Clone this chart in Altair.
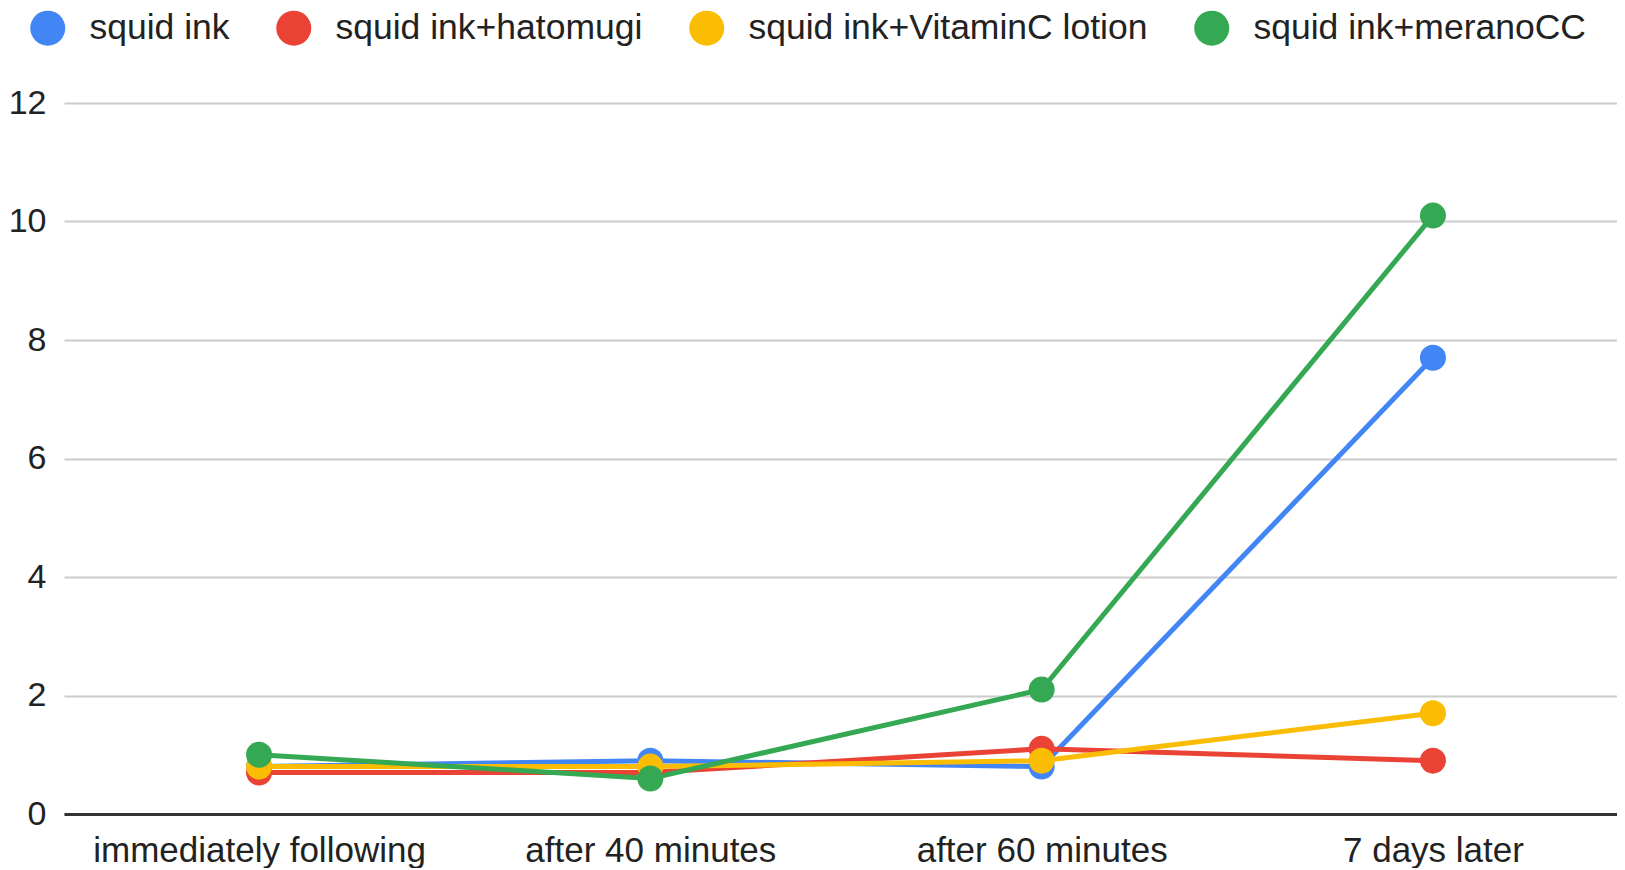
import altair as alt
import pandas as pd

categories = ["immediately following", "after 40 minutes", "after 60 minutes", "7 days later"]
series_names = ["squid ink", "squid ink+hatomugi", "squid ink+VitaminC lotion", "squid ink+meranoCC"]
squid_ink = [0.8, 0.9, 0.8, 7.7]
hatomugi = [0.7, 0.7, 1.1, 0.9]
vitamin_c = [0.8, 0.8, 0.9, 1.7]
merano_cc = [1.0, 0.6, 2.1, 10.1]
colors = ["#4285F4", "#EA4335", "#FBBC04", "#34A853"]
y_ticks = [0, 2, 4, 6, 8, 10, 12]

rows = []
for name, vals in zip(series_names, [squid_ink, hatomugi, vitamin_c, merano_cc]):
    for i, (c, v) in enumerate(zip(categories, vals)):
        rows.append({"time": c, "series": name, "value": v, "order": i})
df = pd.DataFrame(rows)

FONT = "Liberation Sans, Arial, sans-serif"

x = alt.X(
    "time:N",
    sort=categories,
    scale=alt.Scale(type="point", padding=0.4844, align=0.5145),
    axis=alt.Axis(
        title=None, labelFontSize=35, labelColor="#222222", labelFont=FONT,
        labelPadding=19, labelLimit=800, ticks=False, domainColor="#333333",
        domainWidth=3, grid=False, labelAngle=0,
    ),
)
y = alt.Y(
    "value:Q",
    scale=alt.Scale(domain=[0, 12], nice=False),
    axis=alt.Axis(
        title=None, values=y_ticks, labelFontSize=34, labelColor="#222222",
        labelFont=FONT, labelPadding=18, ticks=False, domain=False,
        gridColor="#cccccc", gridWidth=2,
    ),
)
legend = alt.Legend(
    title=None, orient="none", legendX=-34, legendY=-93, direction="horizontal",
    columns=4, symbolType="circle", symbolSize=1225, symbolStrokeWidth=0,
    symbolOpacity=1, labelFontSize=35.5, labelColor="#222222", labelFont=FONT,
    labelOffset=24, columnPadding=46, labelLimit=800,
)
color = alt.Color("series:N", scale=alt.Scale(domain=series_names, range=colors), legend=legend)

base = alt.Chart(df)
layers = []
for n in series_names:
    layers.append(
        base.transform_filter(alt.datum.series == n)
        .mark_line(strokeWidth=5)
        .encode(x=x, y=y, color=color, order="order:Q")
    )
points = base.mark_circle(size=676, opacity=1).encode(x=x, y=y, color=color)
layers.append(points)

chart = (
    alt.layer(*layers)
    .properties(
        width=1553, height=711,
        padding={"top": 2, "left": 0, "right": 0, "bottom": 0},
        background="white",
    )
    .configure_view(stroke=None)
)
chart.save("out.html", embed_options={"renderer": "svg", "actions": False})
